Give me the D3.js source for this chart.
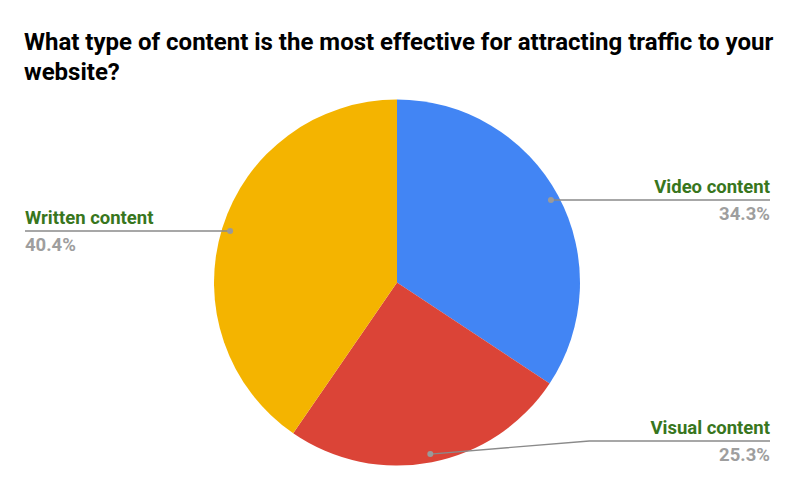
<!DOCTYPE html>
<html lang="en">
<head>
<meta charset="utf-8">
<title>Content types pie</title>
<script src="https://cdn.jsdelivr.net/npm/d3@7/dist/d3.min.js"></script>
<style>
  body { margin: 0; background: #fff; }
  text { font-family: Roboto, "Noto Sans", sans-serif; }
</style>
</head>
<body>
<svg width="795" height="491"></svg>
<script>
// data
var categories = ["Video content", "Visual content", "Written content"];
var values = [34.3, 25.3, 40.4];
var colors = ["#4285f4", "#db4437", "#f4b400"];

var svg = d3.select("svg"),
    cx = 397, cy = 282.5, radius = 183;

svg.append("text")
    .attr("x", 24).attr("y", 50)
    .style("font-size", "24px").style("font-weight", "bold").style("fill", "#000")
    .text("What type of content is the most effective for attracting traffic to your");
svg.append("text")
    .attr("x", 24).attr("y", 80)
    .style("font-size", "24px").style("font-weight", "bold").style("fill", "#000")
    .text("website?");

var data = categories.map(function(c, i) { return {name: c, value: values[i], color: colors[i]}; });

var pie = d3.pie().sort(null).value(function(d) { return d.value; });
var arc = d3.arc().innerRadius(0).outerRadius(radius);
var dotArc = d3.arc().innerRadius(radius * 0.955).outerRadius(radius * 0.955);

var g = svg.append("g").attr("transform", "translate(" + cx + "," + cy + ")");
var arcs = pie(data);

g.selectAll("path.slice")
  .data(arcs)
  .enter().append("path")
    .attr("class", "slice")
    .attr("d", arc)
    .attr("fill", function(d) { return d.data.color; });

// label layout: side and y of the horizontal leader
var labelLayout = {
  "Video content":   {side: "right", y: 200},
  "Visual content":  {side: "right", y: 441},
  "Written content": {side: "left",  y: 231}
};

arcs.forEach(function(d) {
  var p = dotArc.centroid(d);
  var px = cx + p[0], py = cy + p[1];
  var lay = labelLayout[d.data.name];
  var endX = lay.side === "right" ? 770 : 25;
  var pts;
  if (Math.abs(py - lay.y) > 3) {
    var bendX = px + (lay.side === "right" ? 159 : -159);
    pts = [[px, py], [bendX, lay.y], [endX, lay.y]];
  } else {
    pts = [[px, lay.y], [endX, lay.y]];
  }
  svg.append("path")
      .attr("d", d3.line()(pts))
      .attr("fill", "none")
      .attr("stroke", "#8a8a8a")
      .attr("stroke-width", 1.3);
  svg.append("circle")
      .attr("cx", pts[0][0]).attr("cy", pts[0][1]).attr("r", 3)
      .attr("fill", "#9a9a9a");
  var anchor = lay.side === "right" ? "end" : "start";
  svg.append("text")
      .attr("x", endX).attr("y", lay.y - 7)
      .attr("text-anchor", anchor)
      .style("font-size", "18.5px").style("font-weight", "bold").style("fill", "#38761d")
      .text(d.data.name);
  svg.append("text")
      .attr("x", endX).attr("y", lay.y + 19.5)
      .attr("text-anchor", anchor)
      .style("font-size", "18.5px").style("font-weight", "bold").style("fill", "#9e9e9e")
      .text(d3.format(".1f")(d.data.value) + "%");
});
</script>
</body>
</html>
